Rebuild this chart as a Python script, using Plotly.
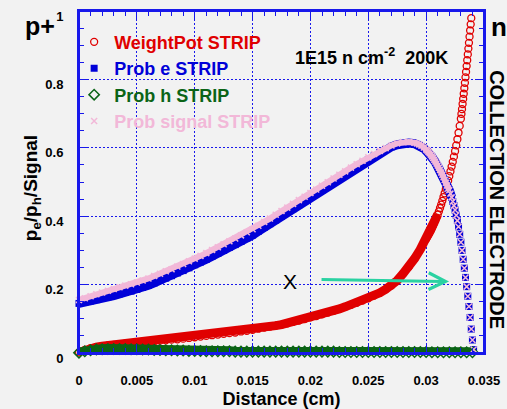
import plotly.graph_objects as go

FONT = "Liberation Sans, Arial, sans-serif"
BLUE_AX = "rgb(24,24,235)"

# ---- sampled distance grids (cm) ----
x_e = [0.0000, 0.0005, 0.0010, 0.0015, 0.0020, 0.0025, 0.0030, 0.0035, 0.0040, 0.0045,
       0.0050, 0.0055, 0.0060, 0.0065, 0.0070, 0.0075, 0.0080, 0.0085, 0.0090, 0.0095,
       0.0100, 0.0105, 0.0110, 0.0115, 0.0120, 0.0125, 0.0130, 0.0135, 0.0140, 0.0145,
       0.0150, 0.0155, 0.0160, 0.0165, 0.0170, 0.0175, 0.0180, 0.0185, 0.0190, 0.0195,
       0.0200, 0.0205, 0.0210, 0.0215, 0.0220, 0.0225, 0.0230, 0.0235, 0.0240, 0.0245,
       0.0250, 0.0255, 0.0260, 0.0265, 0.0270, 0.0275, 0.0280, 0.0285, 0.0290,
       0.0292, 0.0294, 0.0296, 0.0298, 0.0300,
       0.0301, 0.0302, 0.0303, 0.0304, 0.0305, 0.0306, 0.0307, 0.0308, 0.0309, 0.0310,
       0.0311, 0.0312, 0.0313, 0.0314, 0.0315, 0.0316, 0.0317, 0.0318, 0.0319, 0.0320,
       0.0321, 0.0322, 0.0323, 0.0324, 0.0325, 0.0326, 0.0327, 0.0328, 0.0329, 0.0330,
       0.0331, 0.0332, 0.0333, 0.0334, 0.0335, 0.0336, 0.0337, 0.0338, 0.0339, 0.0340,
       0.0341]

prob_e = [0.145, 0.148, 0.152, 0.156, 0.160, 0.164, 0.168, 0.173, 0.177, 0.181,
          0.186, 0.192, 0.198, 0.205, 0.212, 0.219, 0.226, 0.234, 0.241, 0.249,
          0.258, 0.266, 0.274, 0.283, 0.291, 0.300, 0.309, 0.317, 0.326, 0.336,
          0.345, 0.356, 0.367, 0.378, 0.389, 0.400, 0.411, 0.422, 0.433, 0.444,
          0.455, 0.466, 0.477, 0.488, 0.499, 0.511, 0.522, 0.533, 0.544, 0.555,
          0.565, 0.576, 0.586, 0.595, 0.603, 0.609, 0.613, 0.614, 0.612,
          0.610, 0.607, 0.603, 0.598, 0.592,
          0.589, 0.585, 0.581, 0.577, 0.573, 0.568, 0.563, 0.558, 0.552, 0.546,
          0.540, 0.534, 0.527, 0.520, 0.513, 0.505, 0.497, 0.489, 0.481, 0.476,
          0.466, 0.455, 0.443, 0.431, 0.418, 0.403, 0.387, 0.369, 0.347, 0.324,
          0.300, 0.274, 0.248, 0.221, 0.194, 0.166, 0.136, 0.104, 0.070, 0.038,
          0.010]

prob_signal = [0.155, 0.160, 0.166, 0.172, 0.177, 0.182, 0.187, 0.192, 0.197, 0.201,
               0.206, 0.212, 0.218, 0.225, 0.232, 0.239, 0.245, 0.253, 0.260, 0.268,
               0.276, 0.284, 0.292, 0.301, 0.309, 0.318, 0.327, 0.335, 0.344, 0.353,
               0.362, 0.372, 0.383, 0.393, 0.404, 0.415, 0.425, 0.436, 0.447, 0.457,
               0.468, 0.478, 0.489, 0.499, 0.510, 0.521, 0.531, 0.542, 0.552, 0.562,
               0.572, 0.582, 0.591, 0.599, 0.607, 0.613, 0.617, 0.617, 0.615,
               0.613, 0.610, 0.606, 0.601, 0.595,
               0.592, 0.588, 0.584, 0.580, 0.575, 0.570, 0.565, 0.560, 0.554, 0.548,
               0.542, 0.535, 0.528, 0.521, 0.514, 0.506, 0.498, 0.490, 0.481, 0.476,
               0.466, 0.455, 0.443, 0.431, 0.418, 0.403, 0.387, 0.369, 0.347, 0.324,
               0.300, 0.274, 0.248, 0.221, 0.194, 0.166, 0.136, 0.104, 0.070, 0.038,
               0.010]

x_w = [0.0000, 0.0005, 0.0010, 0.0015, 0.0020, 0.0025, 0.0030, 0.0035, 0.0040, 0.0045,
       0.0050, 0.0055, 0.0060, 0.0065, 0.0070, 0.0075, 0.0080, 0.0085, 0.0090, 0.0095,
       0.0100, 0.0105, 0.0110, 0.0115, 0.0120, 0.0125, 0.0130, 0.0135, 0.0140, 0.0145,
       0.0150, 0.0155, 0.0160, 0.0165, 0.0170, 0.0175, 0.0180, 0.0185, 0.0190, 0.0195,
       0.0200, 0.0205, 0.0210, 0.0215, 0.0220, 0.0225, 0.0230, 0.0235, 0.0240, 0.0245,
       0.0250, 0.0255, 0.0260, 0.0265, 0.0270, 0.0275, 0.0280, 0.0285, 0.0290, 0.0295,
       0.0300, 0.0301, 0.0302, 0.0303, 0.0304, 0.0305, 0.0306, 0.0307, 0.0308, 0.0309,
       0.0310, 0.0311, 0.0312, 0.0313, 0.0314, 0.0315, 0.0316, 0.0317, 0.0318, 0.0319,
       0.0320, 0.0321, 0.0322, 0.0323, 0.0324, 0.0325, 0.0326, 0.0327, 0.0328, 0.0329,
       0.0330, 0.03305, 0.0331, 0.03315, 0.0332, 0.03325, 0.0333, 0.03335, 0.0334,
       0.03345, 0.0335, 0.03355, 0.0336, 0.03365, 0.0337, 0.03375, 0.0338, 0.03385,
       0.0339]

weight_pot = [0.002, 0.009, 0.014, 0.017, 0.020, 0.022, 0.024, 0.025, 0.027, 0.028,
              0.030, 0.031, 0.033, 0.034, 0.036, 0.037, 0.039, 0.040, 0.042, 0.044,
              0.046, 0.048, 0.050, 0.052, 0.054, 0.056, 0.058, 0.060, 0.063, 0.065,
              0.068, 0.071, 0.074, 0.077, 0.080, 0.083, 0.087, 0.091, 0.095, 0.099,
              0.104, 0.108, 0.113, 0.118, 0.123, 0.129, 0.135, 0.141, 0.147, 0.153,
              0.160, 0.168, 0.176, 0.186, 0.197, 0.212, 0.232, 0.252, 0.276, 0.303,
              0.333, 0.339, 0.345, 0.351, 0.357, 0.364, 0.371, 0.379, 0.387, 0.396,
              0.405, 0.414, 0.424, 0.434, 0.445, 0.456, 0.467, 0.479, 0.491, 0.504,
              0.517, 0.531, 0.545, 0.559, 0.574, 0.590, 0.607, 0.625, 0.644, 0.664,
              0.685, 0.699, 0.713, 0.728, 0.743, 0.758, 0.774, 0.790, 0.806,
              0.822, 0.839, 0.856, 0.873, 0.890, 0.907, 0.925, 0.943, 0.961,
              0.979]

x_h = [0.0000, 0.0005, 0.0010, 0.0015, 0.0020, 0.0025, 0.0030, 0.0035, 0.0040, 0.0045,
       0.0050, 0.0055, 0.0060, 0.0065, 0.0070, 0.0075, 0.0080, 0.0085, 0.0090, 0.0095,
       0.0100, 0.0105, 0.0110, 0.0115, 0.0120, 0.0125, 0.0130, 0.0135, 0.0140, 0.0145,
       0.0150, 0.0155, 0.0160, 0.0165, 0.0170, 0.0175, 0.0180, 0.0185, 0.0190, 0.0195,
       0.0200, 0.0205, 0.0210, 0.0215, 0.0220, 0.0225, 0.0230, 0.0235, 0.0240, 0.0245,
       0.0250, 0.0255, 0.0260, 0.0265, 0.0270, 0.0275, 0.0280, 0.0285, 0.0290, 0.0295,
       0.0300, 0.0305, 0.0310, 0.0315, 0.0320, 0.0325, 0.0330, 0.0335, 0.0340]

prob_h = [0.001, 0.005, 0.008, 0.010, 0.011, 0.012, 0.012, 0.012, 0.012, 0.011,
          0.011, 0.010, 0.010, 0.009, 0.009, 0.008, 0.008, 0.007, 0.007, 0.006,
          0.006, 0.006, 0.005, 0.005, 0.005, 0.005, 0.005, 0.004, 0.004, 0.004,
          0.004, 0.004, 0.004, 0.004, 0.004, 0.004, 0.004, 0.004, 0.004, 0.004,
          0.004, 0.004, 0.004, 0.004, 0.004, 0.003, 0.003, 0.003, 0.003, 0.003,
          0.003, 0.003, 0.003, 0.003, 0.003, 0.003, 0.003, 0.003, 0.003, 0.003,
          0.003, 0.002, 0.002, 0.002, 0.002, 0.002, 0.002, 0.002, 0.002]

x_ticks = [0, 0.005, 0.01, 0.015, 0.02, 0.025, 0.03, 0.035]
x_tick_labels = ["0", "0.005", "0.01", "0.015", "0.02", "0.025", "0.03", "0.035"]
y_ticks = [0, 0.2, 0.4, 0.6, 0.8, 1]
y_tick_labels = ["0", "0.2", "0.4", "0.6", "0.8", "1"]

RED, BLUE, GREEN, PINK = "#e00000", "#0000d8", "#0b6416", "#f2b8d8"


def upto(xs, ys, xmax):
    keep = [(a, b) for a, b in zip(xs, ys) if a <= xmax]
    return [a for a, _ in keep], [b for _, b in keep]


fig = go.Figure()

# weighting potential: solid band where points crowd, open circles everywhere
bx, by = upto(x_w, weight_pot, 0.0310)
fig.add_trace(go.Scatter(x=bx, y=by, mode="lines", line=dict(color=RED, width=9),
                         showlegend=False, hoverinfo="skip"))
fig.add_trace(go.Scatter(x=x_w, y=weight_pot, mode="markers", cliponaxis=False,
                         name='<span style="color:#e00000">WeightPot STRIP</span>',
                         marker=dict(symbol="circle-open", size=7, color=RED,
                                     line=dict(width=1.3, color=RED))))

# electron probability
bx, by = upto(x_e, prob_e, 0.0322)
fig.add_trace(go.Scatter(x=bx, y=by, mode="lines", line=dict(color=BLUE, width=9),
                         showlegend=False, hoverinfo="skip"))
fig.add_trace(go.Scatter(x=x_e, y=prob_e, mode="markers", cliponaxis=False,
                         name='<span style="color:#0000d8">Prob e STRIP</span>',
                         marker=dict(symbol="square", size=7, color=BLUE,
                                     line=dict(width=0))))

# hole probability
fig.add_trace(go.Scatter(x=x_h, y=prob_h, mode="lines", line=dict(color=GREEN, width=10),
                         showlegend=False, hoverinfo="skip"))
fig.add_trace(go.Scatter(x=x_h, y=prob_h, mode="markers", cliponaxis=False,
                         name='<span style="color:#0b6416">Prob h STRIP</span>',
                         marker=dict(symbol="diamond-open", size=8, color=GREEN,
                                     line=dict(width=1.5, color=GREEN))))

# total signal probability
bx, by = upto(x_e, prob_signal, 0.0320)
fig.add_trace(go.Scatter(x=bx, y=by, mode="lines", line=dict(color=PINK, width=6),
                         showlegend=False, hoverinfo="skip"))
fig.add_trace(go.Scatter(x=x_e, y=prob_signal, mode="markers", cliponaxis=False,
                         name='<span style="color:#f2b8d8">Prob signal STRIP</span>',
                         marker=dict(symbol="x-thin-open", size=6, color=PINK,
                                     line=dict(width=1.5, color=PINK))))

axis_common = dict(
    ticks="inside", ticklen=9, tickwidth=1, tickcolor=BLUE_AX,
    showline=True, linecolor=BLUE_AX, linewidth=2, mirror="ticks",
    showgrid=True, gridcolor=BLUE_AX, gridwidth=1, griddash="2px,2px",
    zeroline=False, automargin=False, layer="above traces",
    tickfont=dict(family=FONT, size=13, color="black", weight="bold"),
)

fig.update_layout(
    width=507, height=409,
    margin=dict(l=79, r=23, t=11, b=56, autoexpand=False),
    paper_bgcolor="#f2f2f2", plot_bgcolor="#f2f2f2",
    font=dict(family=FONT, color="black"),
    xaxis=dict(range=[0, 0.035], tickmode="array", tickvals=x_ticks, ticktext=x_tick_labels,
               ticklabelstandoff=14,
               minor=dict(tickmode="linear", tick0=0, dtick=0.001, ticks="inside",
                          ticklen=5, tickcolor=BLUE_AX, showgrid=False),
               title=dict(text="Distance (cm)", standoff=8,
                          font=dict(family=FONT, size=18, weight="bold", color="black")),
               **axis_common),
    yaxis=dict(range=[0, 1], tickmode="array", tickvals=y_ticks, ticktext=y_tick_labels,
               ticklabelstandoff=11, ticklabelshift=5,
               minor=dict(tickmode="linear", tick0=0, dtick=0.05, ticks="inside",
                          ticklen=5, tickcolor=BLUE_AX, showgrid=False),
               **axis_common),
    legend=dict(x=-0.012, y=0.963, xanchor="left", yanchor="top",
                bgcolor="rgba(0,0,0,0)", borderwidth=0, itemwidth=30,
                font=dict(family=FONT, size=18, weight="bold")),
    showlegend=True,
)

# plot frame
fig.add_shape(type="rect", xref="paper", yref="paper", x0=0, x1=1, y0=0, y1=1,
              line=dict(color=BLUE_AX, width=2), layer="above")

bold = dict(family=FONT, color="black", weight="bold")
fig.add_annotation(xref="paper", yref="paper", x=-0.116, y=0.482, showarrow=False,
                   xanchor="center", yanchor="middle",
                   text="p<sub>e</sub>/p<sub>h</sub>/Signal", textangle=-90,
                   font=dict(size=19, **bold))
fig.add_annotation(xref="paper", yref="paper", x=-0.136, y=0.957, xanchor="left",
                   yanchor="middle", showarrow=False, text="p+", borderpad=0,
                   font=dict(size=25, **bold))
fig.add_annotation(xref="paper", yref="paper", x=1.012, y=0.952, xanchor="left",
                   yanchor="middle", showarrow=False, text="n", font=dict(size=26, **bold))
fig.add_annotation(xref="paper", yref="paper", x=1.032, y=0.447, showarrow=False,
                   xanchor="center", yanchor="middle",
                   text="COLLECTION ELECTRODE", textangle=90,
                   font=dict(size=20, **bold))
fig.add_annotation(xref="paper", yref="paper", x=0.721, y=0.866, showarrow=False,
                   xanchor="center", yanchor="middle",
                   text="1E15 n cm<sup>-2</sup>  200K", font=dict(size=18, **bold))
fig.add_annotation(xref="x", yref="y", x=0.01823, y=0.208, showarrow=False,
                   xanchor="center", yanchor="middle",
                   text="X", font=dict(family=FONT, size=21, color="black"))
fig.add_annotation(xref="x", yref="y", x=0.03198, y=0.209,
                   axref="x", ayref="y", ax=0.02083, ay=0.215, text="",
                   showarrow=True, arrowhead=5, arrowwidth=3, arrowsize=1.1,
                   arrowcolor="#2ad2a2", standoff=0)

fig.write_html("out.html")
